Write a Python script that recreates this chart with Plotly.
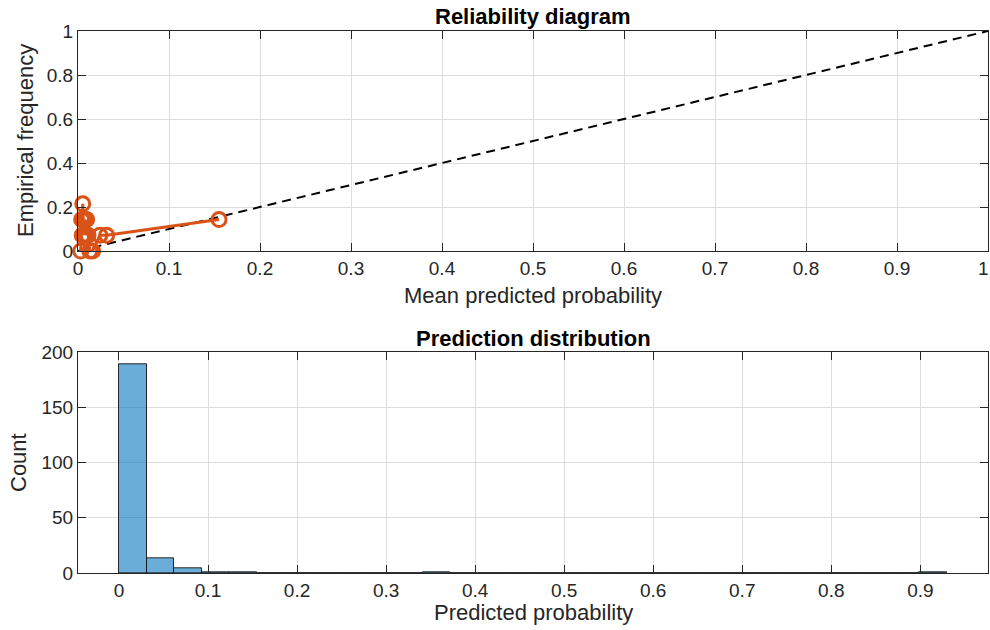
import plotly.graph_objects as go

# Reliability diagram data (15 equal-count bins)
mean_pred = [0.0030, 0.0040, 0.0046, 0.0052, 0.0058, 0.0065, 0.0073, 0.0082,
             0.0095, 0.0110, 0.0130, 0.0160, 0.0240, 0.0315, 0.1550]
emp_freq = [0.0000, 0.1429, 0.0714, 0.2143, 0.1429, 0.0714, 0.1429, 0.0714,
            0.1429, 0.0714, 0.0000, 0.0000, 0.0714, 0.0714, 0.1429]

# Histogram of predictions
bin_width = 0.031
hist_counts = [189, 13, 4, 1, 1, 0, 0, 0, 0, 0, 0, 1, 0, 0, 0,
               0, 0, 0, 0, 0, 0, 0, 0, 0, 0, 0, 0, 0, 0, 1]

top_xticks = [i / 10 for i in range(11)]
top_xtext = ["0", "0.1", "0.2", "0.3", "0.4", "0.5", "0.6", "0.7", "0.8", "0.9", ""]
top_last_label = "1"
top_yticks = [0, 0.2, 0.4, 0.6, 0.8, 1]
top_ytext = ["0", "0.2", "0.4", "0.6", "0.8", "1"]
bot_xticks = [i / 10 for i in range(10)]
bot_xtext = ["0", "0.1", "0.2", "0.3", "0.4", "0.5", "0.6", "0.7", "0.8", "0.9"]
bot_yticks = [0, 50, 100, 150, 200]

FONT = "Liberation Sans, Arial, Helvetica, sans-serif"
AX = "#262626"
GRID = "#DEDEDE"
ORANGE = "#D95319"
TICK_SIZE = 19
LABEL_SIZE = 22
TITLE_SIZE = 22

W, H = 990, 630
ML, MR, MT, MB = 78, 2, 31, 57
PW, PH = W - ML - MR, H - MT - MB

def py(px):  # pixel row -> paper fraction (plot-area based)
    return (H - MB - px) / PH

bin_centers = [(i + 0.5) * bin_width for i in range(len(hist_counts))]

fig = go.Figure()
fig.add_trace(go.Scatter(x=[0, 1], y=[0, 1], mode="lines",
                         line=dict(color="black", width=2, dash="9px,6px"),
                         xaxis="x", yaxis="y", showlegend=False))
fig.add_trace(go.Scatter(x=mean_pred, y=emp_freq, mode="lines+markers",
                         line=dict(color=ORANGE, width=3),
                         marker=dict(symbol="circle-open", size=14,
                                     color=ORANGE, line=dict(width=3, color=ORANGE)),
                         xaxis="x", yaxis="y", showlegend=False, cliponaxis=False))
fig.add_trace(go.Bar(x=bin_centers, y=hist_counts, width=bin_width,
                     marker=dict(color="rgba(0,114,189,0.58)",
                                 line=dict(color="rgba(20,20,20,0.9)", width=1)),
                     xaxis="x2", yaxis="y2", showlegend=False))

axis_common = dict(showline=True, linecolor=AX, linewidth=1, mirror="ticks",
                   ticks="inside", ticklen=8, tickcolor=AX, tickwidth=1,
                   showgrid=True, gridcolor=GRID, gridwidth=1, zeroline=False,
                   automargin=False, ticklabeloverflow="allow",
                   tickfont=dict(family=FONT, size=TICK_SIZE, color=AX))

fig.update_layout(
    width=W, height=H,
    margin=dict(l=ML, r=MR, t=MT, b=MB, pad=0),
    paper_bgcolor="white", plot_bgcolor="white",
    bargap=0,
    xaxis=dict(domain=[0, 1], anchor="y", range=[0, 1],
               tickvals=top_xticks, ticktext=top_xtext, **axis_common),
    yaxis=dict(domain=[py(251), 1], anchor="x", range=[0, 1],
               tickvals=top_yticks, ticktext=top_ytext, **axis_common),
    xaxis2=dict(domain=[0, 1], anchor="y2", range=[-0.046, 0.976],
                tickvals=bot_xticks, ticktext=bot_xtext, **axis_common),
    yaxis2=dict(domain=[0, py(352.3)], anchor="x2", range=[0, 200],
                tickvals=bot_yticks, **axis_common),
)

def add_text(text, xpx, ypx, size, angle=0, color=AX):
    fig.add_annotation(text=text, x=(xpx - ML) / PW, y=py(ypx), xref="paper", yref="paper",
                       showarrow=False, xanchor="center", yanchor="middle", textangle=angle,
                       font=dict(family=FONT, size=size, color=color))

# last top x tick label, nudged inside the page so it is not clipped
add_text(top_last_label, 983, 268, TICK_SIZE)

add_text("<b>Reliability diagram</b>", 533, 17, TITLE_SIZE, color="black")
add_text("Mean predicted probability", 533, 295, LABEL_SIZE)
add_text("<b>Prediction distribution</b>", 533, 338, TITLE_SIZE, color="black")
add_text("Predicted probability", 533, 612, LABEL_SIZE)
add_text("Empirical frequency", 25, 141, LABEL_SIZE, angle=-90)
add_text("Count", 18, 463, LABEL_SIZE, angle=-90)

fig.write_html("out.html")
